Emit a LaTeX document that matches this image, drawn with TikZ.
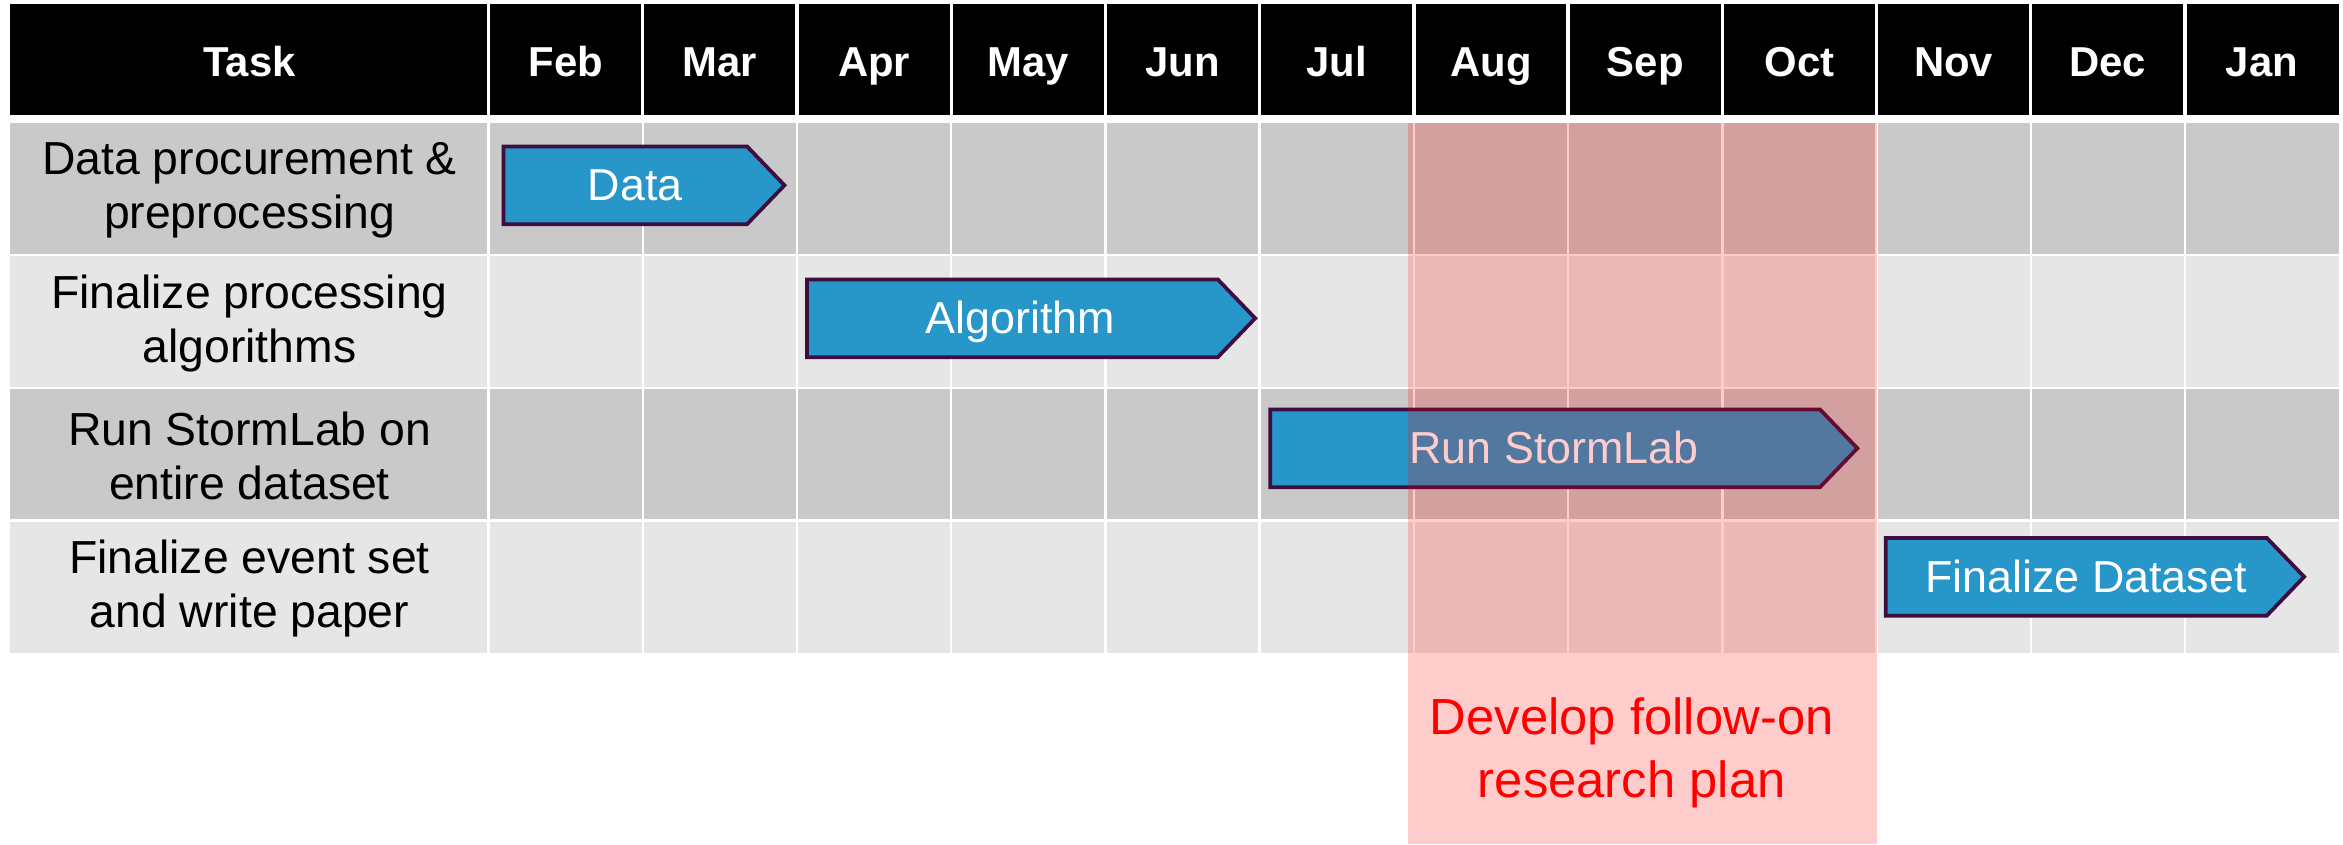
\documentclass[tikz,border=0pt]{standalone}
\usepackage{fontspec}
\setmainfont{Liberation Sans}
\definecolor{rowdark}{HTML}{C9C9C9}
\definecolor{rowlight}{HTML}{E6E6E6}
\definecolor{barblue}{HTML}{2796C9}
\definecolor{barline}{HTML}{3F0D3F}
\tikzset{
  hdr/.style={text=white, font=\bfseries\fontsize{28}{32}\selectfont, inner sep=0pt, anchor=base},
  tasktext/.style={align=center, font=\fontsize{31}{36}\selectfont, text=black, inner sep=0pt},
  barlabel/.style={text=white, font=\fontsize{30}{34}\selectfont, inner sep=0pt, anchor=base},
  bar/.style={fill=barblue, draw=barline, line width=2.5pt, line join=miter},
  gridline/.style={white, line width=1.6pt},
  hdrline/.style={white, line width=2.2pt},
  overlay/.style={fill=red, fill opacity=0.2},
  plan/.style={text=red, align=center, font=\fontsize{34}{42}\selectfont, inner sep=0pt}
}
\begin{document}
\begin{tikzpicture}[x=1pt,y=-1pt]
\useasboundingbox (0,0) rectangle (1568,565);
\fill[white] (0,0) rectangle (1568,565);
% header
\fill[black] (7,3) rectangle (1565.4,77);
\foreach \k in {0,...,11}{
  \draw[hdrline] ({327+\k*103.2},3) -- ({327+\k*103.2},77);
}
\node[hdr] (hTask) at (167,51) {Task};
\foreach \m [count=\i from 0] in {Feb,Mar,Apr,May,Jun,Jul,Aug,Sep,Oct,Nov,Dec,Jan}{
  \node[hdr] (h\m) at ({327+(\i+0.5)*103.2},51) {\m};
}
% rows
\fill[rowdark]  (7,82)    rectangle (1565.4,170.8);
\fill[rowlight] (7,170.8) rectangle (1565.4,259.6);
\fill[rowdark]  (7,259.6) rectangle (1565.4,348.4);
\fill[rowlight] (7,348.4) rectangle (1565.4,437.2);
\foreach \k in {0,...,11}{
  \draw[gridline] ({327+\k*103.2},82) -- ({327+\k*103.2},437.2);
}
\foreach \r in {1,2,3}{
  \draw[gridline] (7,{82+\r*88.8}) -- (1565.4,{82+\r*88.8});
}
% task names
\node[tasktext] (t1) at (167,127.5) {Data procurement \&\\preprocessing};
\node[tasktext] (t2) at (167,216.5) {Finalize processing\\algorithms};
\node[tasktext] (t3) at (167,305) {Run StormLab on\\entire dataset};
\node[tasktext] (t4) at (167,394) {Finalize event set\\and write paper};
% bars
\draw[bar] (337,98) -- (500,98) -- (525,124) -- (500,150) -- (337,150) -- cycle;
\node[barlabel] (bData) at (425,134.5) {Data};
\draw[bar] (540,187) -- (815,187) -- (840,213) -- (815,239) -- (540,239) -- cycle;
\node[barlabel] (bAlg) at (683,223.5) {Algorithm};
\draw[bar] (850,274) -- (1218,274) -- (1243,300) -- (1218,326) -- (850,326) -- cycle;
\node[barlabel] (bRun) at (1040,310.5) {Run StormLab};
\draw[bar] (1262,360) -- (1517,360) -- (1542,386) -- (1517,412) -- (1262,412) -- cycle;
\node[barlabel] (bFin) at (1396,396.5) {Finalize Dataset};
% overlay
\fill[overlay] (942,82) rectangle (1256,565);
\node[plan] (plan) at (1092,504) {Develop follow-on\\research plan};
\end{tikzpicture}
\end{document}
